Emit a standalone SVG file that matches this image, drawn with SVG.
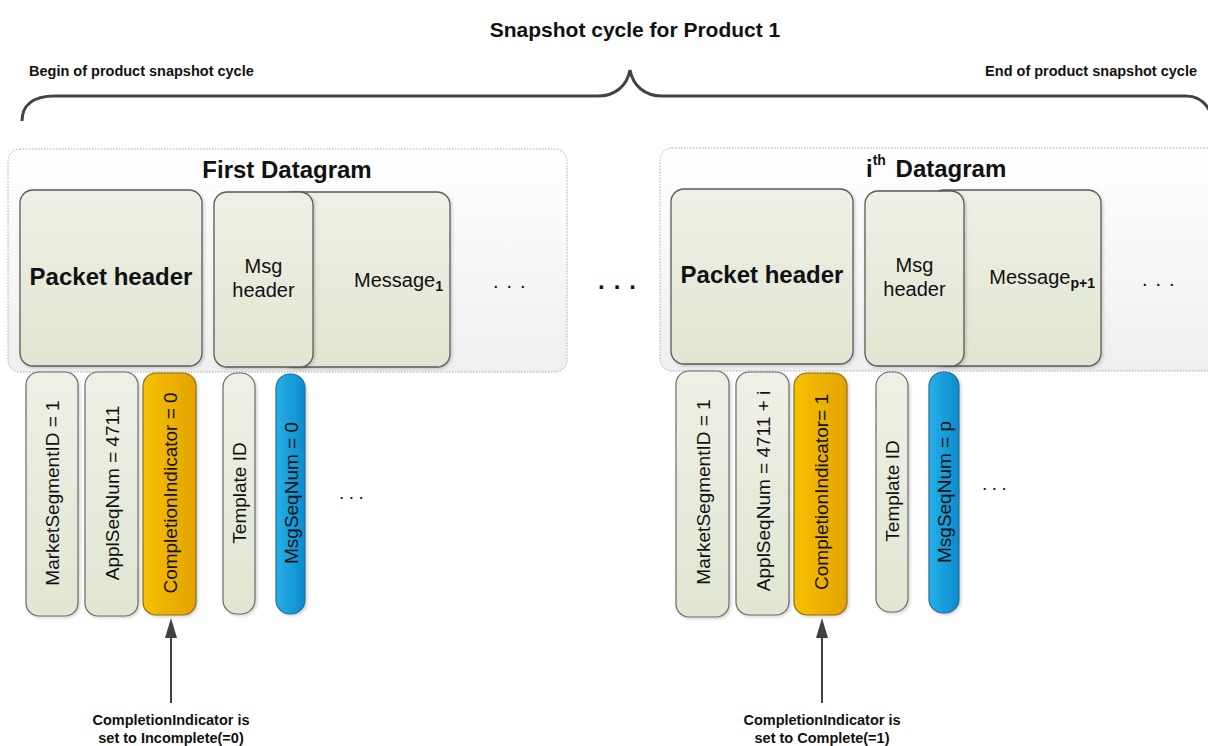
<svg xmlns="http://www.w3.org/2000/svg" width="1208" height="746" viewBox="0 0 1208 746">
<defs>
<linearGradient id="gCont" x1="0" y1="0" x2="0" y2="1"><stop offset="0" stop-color="#ffffff"/><stop offset="1" stop-color="#efefef"/></linearGradient>
<linearGradient id="gBox" x1="0" y1="0" x2="0" y2="1"><stop offset="0" stop-color="#eef0e5"/><stop offset="1" stop-color="#e1e6d2"/></linearGradient>
<linearGradient id="gOrange" x1="0" y1="0" x2="1" y2="0"><stop offset="0" stop-color="#f8c000"/><stop offset="1" stop-color="#e2a300"/></linearGradient>
<linearGradient id="gBlue" x1="0" y1="0" x2="1" y2="0"><stop offset="0" stop-color="#25b0ea"/><stop offset="1" stop-color="#0b8ccc"/></linearGradient>
<filter id="sh" x="-10%" y="-10%" width="130%" height="130%"><feDropShadow dx="1.5" dy="1.5" stdDeviation="1.5" flood-color="#000" flood-opacity="0.18"/></filter>
</defs>
<style>
text{font-family:"Liberation Sans",Arial,sans-serif;fill:#111}
.b{font-weight:bold}
.cont{fill:url(#gCont);stroke:#a8a8a8;stroke-width:1;stroke-dasharray:1.5 1.5}
.box{fill:url(#gBox);stroke:#5a5a5a;stroke-width:1.3;filter:url(#sh)}
.pill{fill:url(#gBox);stroke:#6a6a6a;stroke-width:1.2;filter:url(#sh)}
.or{fill:url(#gOrange);stroke:#8a6d1e;stroke-width:1.2;filter:url(#sh)}
.bl{fill:url(#gBlue);stroke:#2d6996;stroke-width:1.2;filter:url(#sh)}
.pt{font-size:19px}
.big{font-size:24px;font-weight:bold}
.mid{font-size:20px}
.lbl{font-size:14.5px;font-weight:bold}
.conn{stroke:#404040;stroke-width:2;fill:none}
</style>

<text id="title" class="b" x="635" y="37" font-size="21" text-anchor="middle">Snapshot cycle for Product 1</text>
<text id="begin" class="lbl" x="29" y="76">Begin of product snapshot cycle</text>
<text id="end" class="lbl" x="1197" y="76" text-anchor="end">End of product snapshot cycle</text>

<g id="brace">
<path d="M22,121 C22,106 32,96 55,96 L598,96 C615,96 627,86 630,70 C633,86 645,96 662,96 L1186,96 C1198,96 1207,103 1212,116" fill="none" stroke="#434343" stroke-width="3"/>
</g>

<g id="datagram1">
<rect class="cont" x="8" y="149" width="559" height="223" rx="12"/>
<text class="big" x="287" y="178" text-anchor="middle">First Datagram</text>
</g>
<g id="packetheader1">
<rect class="box" x="20" y="190" width="182" height="176" rx="13"/>
<text class="big" x="111" y="285" text-anchor="middle">Packet header</text>
</g>
<g id="message1">
<rect class="box" x="280" y="192" width="170" height="175" rx="13"/>
<text class="mid" x="443" y="287" text-anchor="end">Message<tspan class="b" font-size="14" dy="4">1</tspan></text>
</g>
<g id="msgheader1">
<rect class="box" x="214" y="192" width="99" height="175" rx="13"/>
<text class="mid" x="263.5" y="273" text-anchor="middle">Msg</text>
<text class="mid" x="263.5" y="297" text-anchor="middle">header</text>
</g>
<text id="dots1" x="493" y="288" font-size="20" letter-spacing="8">...</text>

<text id="dotsmid" class="b" x="598" y="289" font-size="24" letter-spacing="9">...</text>

<g id="datagram2">
<rect class="cont" x="660" y="148" width="600" height="223" rx="12"/>
<text class="big" x="866" y="177">i<tspan font-size="14" dy="-12">th</tspan><tspan dx="3" dy="12"> Datagram</tspan></text>
</g>
<g id="packetheader2">
<rect class="box" x="671" y="189" width="182" height="175" rx="13"/>
<text class="big" x="762" y="283" text-anchor="middle">Packet header</text>
</g>
<g id="message2">
<rect class="box" x="931" y="190" width="170" height="176" rx="13"/>
<text class="mid" x="1095" y="284" text-anchor="end">Message<tspan class="b" font-size="14" dy="4">p+1</tspan></text>
</g>
<g id="msgheader2">
<rect class="box" x="865" y="191" width="99" height="175" rx="13"/>
<text class="mid" x="914.5" y="272" text-anchor="middle">Msg</text>
<text class="mid" x="914.5" y="296" text-anchor="middle">header</text>
</g>
<text id="dots2" x="1142" y="286" font-size="20" letter-spacing="8">...</text>

<g id="f1-marketsegment">
<rect class="pill" x="26" y="372" width="52" height="244" rx="13"/>
<text class="pt" transform="translate(52,493) rotate(-90)" x="0" y="7" text-anchor="middle">MarketSegmentID = 1</text>
</g>
<g id="f1-applseqnum">
<rect class="pill" x="85" y="372" width="53" height="244" rx="13"/>
<text class="pt" transform="translate(111.5,493) rotate(-90)" x="0" y="7" text-anchor="middle">ApplSeqNum = 4711</text>
</g>
<g id="f1-completion">
<rect class="or" x="143" y="373" width="53" height="242" rx="13"/>
<text class="pt" transform="translate(169.5,493) rotate(-90)" x="0" y="7" text-anchor="middle">CompletionIndicator = 0</text>
</g>
<g id="f1-template">
<rect class="pill" x="223" y="373" width="32" height="241" rx="14"/>
<text class="pt" transform="translate(239,493) rotate(-90)" x="0" y="7" text-anchor="middle">Template ID</text>
</g>
<g id="f1-msgseqnum">
<rect class="bl" x="276" y="374" width="29" height="240" rx="14"/>
<text class="pt" transform="translate(290.5,493) rotate(-90)" x="0" y="7" text-anchor="middle">MsgSeqNum = 0</text>
</g>
<text id="fdots1" x="339" y="499" font-size="19" letter-spacing="4.5">...</text>

<g id="f2-marketsegment">
<rect class="pill" x="676" y="371" width="53" height="246" rx="13"/>
<text class="pt" transform="translate(702.5,492) rotate(-90)" x="0" y="7" text-anchor="middle">MarketSegmentID = 1</text>
</g>
<g id="f2-applseqnum">
<rect class="pill" x="736" y="372" width="53" height="243" rx="13"/>
<text class="pt" transform="translate(762.5,491) rotate(-90)" x="0" y="7" text-anchor="middle">ApplSeqNum = 4711 + i</text>
</g>
<g id="f2-completion">
<rect class="or" x="794" y="373" width="53" height="242" rx="13"/>
<text class="pt" transform="translate(820.5,492) rotate(-90)" x="0" y="7" text-anchor="middle">CompletionIndicator= 1</text>
</g>
<g id="f2-template">
<rect class="pill" x="876" y="372" width="32" height="240" rx="14"/>
<text class="pt" transform="translate(892,491) rotate(-90)" x="0" y="7" text-anchor="middle">Template ID</text>
</g>
<g id="f2-msgseqnum">
<rect class="bl" x="929" y="372" width="30" height="241" rx="14"/>
<text class="pt" transform="translate(944,492) rotate(-90)" x="0" y="7" text-anchor="middle">MsgSeqNum = p</text>
</g>
<text id="fdots2" x="982" y="490" font-size="19" letter-spacing="4.5">...</text>

<g id="connectors">
<line class="conn" x1="171" y1="703" x2="171" y2="634"/>
<polygon points="171,618 165,638 177,638" fill="#404040"/>
<line class="conn" x1="822" y1="703" x2="822" y2="634"/>
<polygon points="822,618 816,638 828,638" fill="#404040"/>
</g>

<g id="label1">
<text class="lbl" x="171" y="725" text-anchor="middle">CompletionIndicator is</text>
<text class="lbl" x="171" y="743" text-anchor="middle">set to Incomplete(=0)</text>
</g>
<g id="label2">
<text class="lbl" x="822" y="725" text-anchor="middle">CompletionIndicator is</text>
<text class="lbl" x="822" y="743" text-anchor="middle">set to Complete(=1)</text>
</g>
</svg>
